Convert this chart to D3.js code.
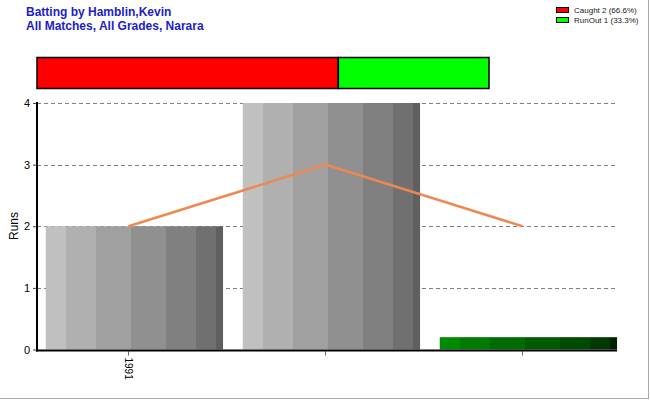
<!DOCTYPE html>
<html>
<head>
<meta charset="utf-8">
<script src="https://cdn.jsdelivr.net/npm/d3@7"></script>
<style>
  html, body { margin: 0; padding: 0; background: #fff; }
  svg { display: block; font-family: Arial, "Liberation Sans", sans-serif; }
</style>
</head>
<body>
<svg id="chart" width="650" height="400"></svg>
<script>
// ---- data ----
const titleLines = ["Batting by Hamblin,Kevin", "All Matches, All Grades, Narara"];
const categories = ["1991", "", ""];
const runs = [2, 4, 0.2];
const barKinds = ["gray", "gray", "green"];
const average = [2, 3, 2];
const yTicks = [0, 1, 2, 3, 4];
const dismissalTypes = ["Caught", "RunOut"];
const dismissalCounts = [2, 1];
const dismissalPct = ["66.6%", "33.3%"];
const dismissalColors = ["#ff0000", "#00ff00"];

// shading bands for the cylinder-like bars
const shadeStops = [0, 20/177, 50/177, 85/177, 120/177, 150/177, 170/177, 1];
const grayShades = ["#c0c0c0", "#b0b0b0", "#a0a0a0", "#909090", "#808080", "#707070", "#5f5f5f"];
const greenShades = ["#008a00", "#007a00", "#006b00", "#005b00", "#004a00", "#003a00", "#002400"];

const svg = d3.select("#chart");

// outer frame shadow (right + bottom)
svg.append("line").attr("x1", 648.5).attr("x2", 648.5).attr("y1", 0).attr("y2", 399)
  .attr("stroke", "#a8a8a8").attr("stroke-width", 1);
svg.append("line").attr("x1", 0).attr("x2", 649).attr("y1", 398.5).attr("y2", 398.5)
  .attr("stroke", "#a8a8a8").attr("stroke-width", 1);

// titles
svg.selectAll("text.title").data(titleLines).enter().append("text")
  .attr("class", "title")
  .attr("x", 26).attr("y", (d, i) => 16 + i * 14)
  .attr("font-size", 12).attr("font-weight", "bold")
  .attr("fill", "#1c1ccc")
  .text(d => d);

// legend
const legend = svg.append("g");
dismissalTypes.forEach((t, i) => {
  legend.append("rect")
    .attr("x", 556.5).attr("y", 7.5 + i * 10).attr("width", 12).attr("height", 5)
    .attr("fill", dismissalColors[i]).attr("stroke", "#000").attr("stroke-width", 1);
  legend.append("text")
    .attr("x", 574).attr("y", 13 + i * 10)
    .attr("font-size", 8).attr("fill", "#222")
    .text(`${t} ${dismissalCounts[i]} (${dismissalPct[i]})`);
});

// stacked dismissal bar
const total = d3.sum(dismissalCounts);
const sx = d3.scaleLinear().domain([0, total]).range([37, 489]);
const cum = d3.cumsum(dismissalCounts);
svg.append("g").selectAll("rect").data(dismissalCounts).enter().append("rect")
  .attr("x", (d, i) => sx(cum[i] - d))
  .attr("y", 57.5)
  .attr("width", (d, i) => sx(cum[i]) - sx(cum[i] - d))
  .attr("height", 31)
  .attr("fill", (d, i) => dismissalColors[i])
  .attr("stroke", "#000").attr("stroke-width", 1.5);

// scales
const x = d3.scaleBand().domain(d3.range(categories.length)).range([30, 621]);
const y = d3.scaleLinear().domain([0, 4]).range([349.5, 103]);
const plotLeft = 37, plotRight = 617;

// gradients
const defs = svg.append("defs");
function makeGrad(id, shades) {
  const g = defs.append("linearGradient").attr("id", id)
    .attr("x1", "0").attr("x2", "1").attr("y1", "0").attr("y2", "0");
  shades.forEach((c, i) => {
    g.append("stop").attr("offset", shadeStops[i]).attr("stop-color", c);
    g.append("stop").attr("offset", shadeStops[i + 1]).attr("stop-color", c);
  });
}
makeGrad("gGray", grayShades);
makeGrad("gGreen", greenShades);

// gridlines
svg.append("g").selectAll("line").data(yTicks).enter().append("line")
  .attr("x1", plotLeft).attr("x2", plotRight)
  .attr("y1", d => Math.round(y(d)) + 0.5).attr("y2", d => Math.round(y(d)) + 0.5)
  .attr("stroke", "#808080").attr("stroke-width", 1)
  .attr("stroke-dasharray", "4,3");

// bars
svg.append("g").selectAll("rect").data(runs).enter().append("rect")
  .attr("x", (d, i) => x(i) + x.bandwidth() * 0.08)
  .attr("width", x.bandwidth() * 0.9)
  .attr("y", d => y(d))
  .attr("height", d => y(0) - y(d))
  .attr("fill", (d, i) => barKinds[i] === "green" ? "url(#gGreen)" : "url(#gGray)");

// average line
const line = d3.line()
  .x((d, i) => x(i) + x.bandwidth() / 2)
  .y(d => y(d));
svg.append("path").datum(average)
  .attr("d", line)
  .attr("fill", "none")
  .attr("stroke", "#ee8850").attr("stroke-width", 2.5);

// y axis
const yAxis = d3.axisLeft(y).tickValues(yTicks).tickFormat(d3.format("d")).tickSize(4).tickPadding(3);
const gy = svg.append("g").attr("transform", `translate(${plotLeft},0)`).call(yAxis);
gy.select(".domain").remove();
gy.selectAll(".tick line").attr("stroke", "#444");
gy.selectAll(".tick text").attr("font-size", 11).attr("font-family", "Arial, 'Liberation Sans', sans-serif").attr("fill", "#000");
svg.append("line").attr("x1", plotLeft).attr("x2", plotLeft).attr("y1", 102).attr("y2", 351.5)
  .attr("stroke", "#000").attr("stroke-width", 2);

// x axis
const xAxis = d3.axisBottom(x).tickFormat(i => categories[i]).tickSize(5).tickPadding(3);
const gx = svg.append("g").attr("transform", "translate(0,350.5)").call(xAxis);
gx.select(".domain").remove();
gx.selectAll(".tick line").attr("stroke", "#666");
gx.selectAll(".tick text")
  .attr("font-size", 10).attr("font-family", "Arial, 'Liberation Sans', sans-serif").attr("fill", "#000")
  .attr("text-anchor", "start")
  .attr("dy", "0.35em")
  .attr("transform", "translate(0,2) rotate(90)")
  .attr("x", 5).attr("y", 0);
svg.append("line").attr("x1", plotLeft - 1).attr("x2", plotRight).attr("y1", 350.5).attr("y2", 350.5)
  .attr("stroke", "#000").attr("stroke-width", 2);

// y axis title
svg.append("text")
  .attr("transform", "translate(18,226) rotate(-90)")
  .attr("text-anchor", "middle")
  .attr("font-size", 12).attr("fill", "#000")
  .text("Runs");
</script>
</body>
</html>
